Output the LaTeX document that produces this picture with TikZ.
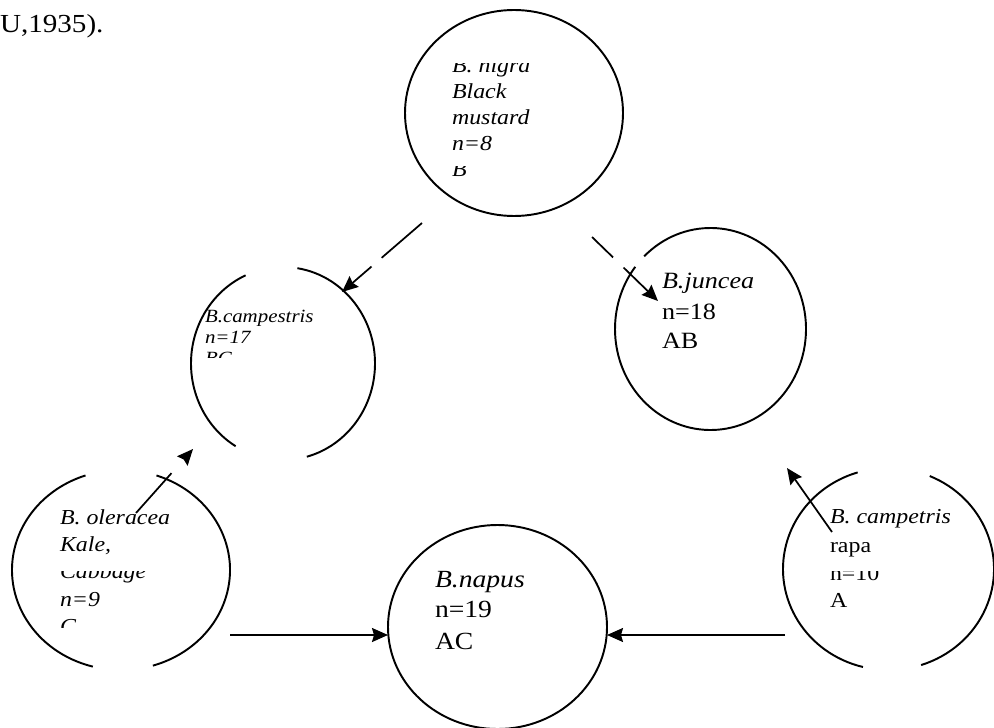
\documentclass[tikz,border=0pt]{standalone}
\usepackage{fontspec}
\setmainfont{Liberation Serif}
\usetikzlibrary{arrows.meta,calc,shapes.geometric}
\newcommand\hst[1]{\scalebox{1.12}[1]{#1}}
\begin{document}
\begin{tikzpicture}[x=0.75pt,y=-0.75pt,
  ring/.style={line width=1.45pt, black},
  conn/.style={line width=1.3pt, black, -{Stealth[length=12pt,width=10.5pt,inset=1.5pt]}},
  lbl/.style={anchor=base west, inner sep=0pt, outer sep=0pt},
  fnig/.style={lbl, font=\fontsize{16}{19}\selectfont\itshape},
  fcam/.style={lbl, font=\fontsize{14}{16}\selectfont\itshape},
  fjun/.style={lbl, font=\fontsize{17.5}{20}\selectfont},
  fole/.style={lbl, font=\fontsize{16}{19}\selectfont\itshape},
  fnap/.style={lbl, font=\fontsize{18.5}{21}\selectfont},
  frap/.style={lbl, font=\fontsize{16}{19}\selectfont},
  ]
\useasboundingbox (0,0) rectangle (994,727);

% top-left fragment of caption
\node[lbl, font=\fontsize{19.5}{22}\selectfont] (cap) at (0,33) {\hst{U,1935).}};

% circle centres
\coordinate (nigra) at (514,113);
\coordinate (camp) at (283,363.5);
\coordinate (junc) at (710.5,329);
\coordinate (oler) at (121,570);
\coordinate (napus) at (497.5,627);
\coordinate (rapa) at (888.5,569);

% B. nigra (full)
\draw[ring] (nigra) ellipse [x radius=109, y radius=103];
% B. campestris (gaps top and bottom)
\draw[ring] ($(camp)+(-81:92 and 96.5)$) arc[start angle=-81, end angle=75, x radius=92, y radius=96.5];
\draw[ring] ($(camp)+(121:92 and 96.5)$) arc[start angle=121, end angle=246, x radius=92, y radius=96.5];
% B. juncea (small gap upper left)
\draw[ring] ($(junc)+(226:95.5 and 101)$) arc[start angle=226, end angle=578, x radius=95.5, y radius=101];
% B. oleracea
\draw[ring] ($(oler)+(-71:109 and 100)$) arc[start angle=-71, end angle=73, x radius=109, y radius=100];
\draw[ring] ($(oler)+(105:109 and 100)$) arc[start angle=105, end angle=251, x radius=109, y radius=100];
% B. napus (full)
\draw[ring] (napus) ellipse [x radius=109.5, y radius=102];
% B. campetris rapa
\draw[ring] ($(rapa)+(-67:105.5 and 101)$) arc[start angle=-67, end angle=72, x radius=105.5, y radius=101];
\draw[ring] ($(rapa)+(104:105.5 and 101)$) arc[start angle=104, end angle=253, x radius=105.5, y radius=101];

% ---- texts ----
% B. nigra
\begin{scope}
  \clip (440,64) rectangle (600,90);
  \node[fnig] (nig1) at (452,73) {\hst{B. nigra}};
\end{scope}
\node[fnig] (nig2) at (452,99) {\hst{Black}};
\node[fnig] (nig3) at (452,125) {\hst{mustard}};
\node[fnig] (nig4) at (452,151) {\hst{n=8}};
\begin{scope}
  \clip (440,167) rectangle (600,190);
  \node[fnig] (nig5) at (452,177) {\hst{B}};
\end{scope}

% B. campestris
\node[fcam] (cam1) at (205,322) {\hst{B.campestris}};
\node[fcam] (cam2) at (205,343) {\hst{n=17}};
\begin{scope}
  \clip (195,345) rectangle (300,357);
  \node[fcam] (cam3) at (205,364) {\hst{BC}};
\end{scope}

% B. juncea
\node[fjun, font=\fontsize{17.5}{20}\selectfont\itshape] (jun1) at (662,288) {\hst{B.juncea}};
\node[fjun] (jun2) at (662,319) {\hst{n=18}};
\node[fjun] (jun3) at (662,348) {\hst{AB}};

% B. oleracea
\node[fole] (ole1) at (60,524) {\hst{B. oleracea}};
\node[fole] (ole2) at (60,551) {\hst{Kale,}};
\begin{scope}
  \clip (50,571) rectangle (200,590);
  \node[fole] (ole3) at (60,578) {\hst{Cabbage}};
\end{scope}
\node[fole] (ole4) at (60,606) {\hst{n=9}};
\begin{scope}
  \clip (50,610) rectangle (200,627);
  \node[fole] (ole5) at (60,633) {\hst{C}};
\end{scope}

% B. napus
\node[fnap, font=\fontsize{18.5}{21}\selectfont\itshape] (nap1) at (435,587) {\hst{B.napus}};
\node[fnap] (nap2) at (435,617) {\hst{n=19}};
\node[fnap] (nap3) at (435,649) {\hst{AC}};

% B. campetris rapa
\node[frap, font=\fontsize{16}{19}\selectfont\itshape] (rap1) at (830,523) {\hst{B. campetris}};
\node[frap] (rap2) at (830,552) {\hst{rapa}};
\begin{scope}
  \clip (820,571) rectangle (900,590);
  \node[frap] (rap3) at (830,580) {\hst{n=10}};
\end{scope}
\node[frap] (rap4) at (830,607) {\hst{A}};

% ---- connectors ----
\coordinate (a1s) at (422,223); \coordinate (a1e) at (342,292);
\coordinate (a2s) at (592,237); \coordinate (a2e) at (658,301);
\coordinate (a3s) at (136,513); \coordinate (a3e) at (193,449);
\coordinate (a4s) at (230,635); \coordinate (a4e) at (388,635);
\coordinate (a5s) at (785,635); \coordinate (a5e) at (607,635);
\coordinate (a6s) at (832,532); \coordinate (a6e) at (787,468);

\draw[conn, dash pattern=on 40pt off 10pt on 200pt] (a1s) -- (a1e);
\draw[conn, dash pattern=on 22pt off 11pt on 200pt] (a2s) -- (a2e);
\draw[conn, dash pattern=on 40pt off 200pt] (a3s) -- (a3e);
\draw[conn] (a4s) -- (a4e);
\draw[conn] (a5s) -- (a5e);
\draw[conn] (a6s) -- (a6e);
\end{tikzpicture}
\end{document}
